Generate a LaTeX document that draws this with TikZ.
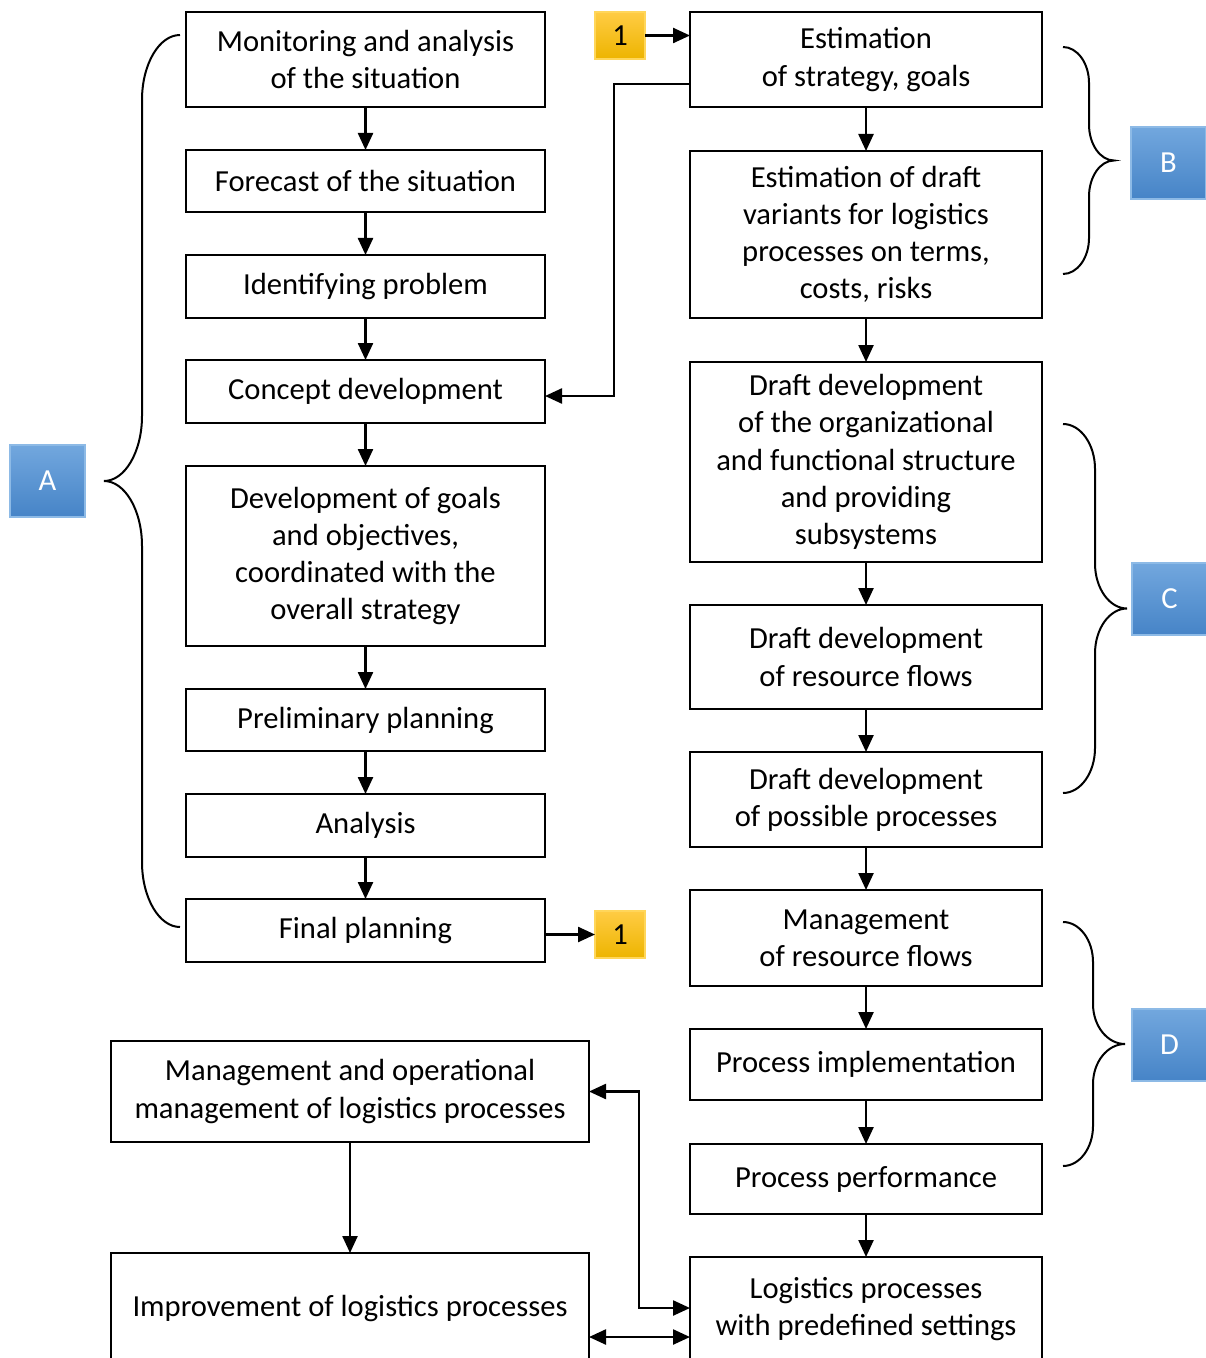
\documentclass[tikz,border=0pt]{standalone}
\usepackage{fontspec}
\setmainfont{Carlito}
\usetikzlibrary{arrows.meta, calc}
\newcommand{\px}{*0.5pt}
\newcommand{\arrowTip}{{Triangle[length=17\px, width=15\px]}}
\newcommand{\lineWidth}{2.4\px}
\newcommand{\boxLine}{2\px}
\newcommand{\leftWidth}{359\px}
\newcommand{\rightWidth}{352\px}
\newcommand{\bottomWidth}{478\px}
\definecolor{tagBlueTop}{HTML}{72A7DE}
\definecolor{tagBlueBottom}{HTML}{4684C7}
\definecolor{tagBlueLine}{HTML}{8DBAE6}
\definecolor{tagGoldTop}{HTML}{FFCC44}
\definecolor{tagGoldBottom}{HTML}{EDB400}
\definecolor{tagGoldLine}{HTML}{FFD65A}
\tikzstyle{box}=[draw=black, line width=\boxLine, fill=white, inner sep=0, outer sep=0, align=center, anchor=north, font=\fontsize{15.3}{18.6}\selectfont]
\tikzstyle{leftBox}=[box, minimum width=\leftWidth]
\tikzstyle{rightBox}=[box, minimum width=\rightWidth]
\tikzstyle{bottomBox}=[box, minimum width=\bottomWidth]
\tikzstyle{tag}=[inner sep=0, outer sep=0, anchor=north west, line width=1.5\px, font=\fontsize{15.3}{18.6}\selectfont]
\tikzstyle{goldTag}=[tag, top color=tagGoldTop, bottom color=tagGoldBottom, draw=tagGoldLine, minimum width=50\px, minimum height=47\px]
\tikzstyle{blueTag}=[tag, top color=tagBlueTop, bottom color=tagBlueBottom, draw=tagBlueLine, text=white, minimum width=75\px, minimum height=72\px]
\tikzstyle{line}=[draw=black, line width=\lineWidth]
\tikzstyle{arrow}=[line, -\arrowTip]
\tikzstyle{twoWay}=[line, \arrowTip-\arrowTip]
\tikzstyle{brace}=[draw=black, line width=2\px]
% #1 end x, #2 stem x, #3 tip x, #4 top y, #5 bottom y, #6 bend
\newcommand{\bracket}[6]{%
  \pgfmathsetmacro{\ym}{(#4+#5)/2}
  \draw[brace] (#1,#4)
    .. controls ({#2+0.45*(#1-#2)},#4) and (#2,{#4+0.45*#6}) .. (#2,{#4+#6})
    -- (#2,{\ym-#6})
    .. controls (#2,{\ym-0.45*#6}) and ({#3+0.55*(#2-#3)},\ym) .. (#3,\ym)
    .. controls ({#3+0.55*(#2-#3)},\ym) and (#2,{\ym+0.45*#6}) .. (#2,{\ym+#6})
    -- (#2,{#5-#6})
    .. controls (#2,{#5-0.45*#6}) and ({#2+0.45*(#1-#2)},#5) .. (#1,#5);
}

\begin{document}
\begin{tikzpicture}[x=0.5pt, y=-0.5pt]

% Frame
\useasboundingbox (0,0) rectangle (1205,1358);

% Left column
\node[leftBox, minimum height=95\px] (monitor) at (365.5,12) {Monitoring and analysis\\of the situation};
\node[leftBox, minimum height=62\px] (forecast) at (365.5,150) {Forecast of the situation};
\node[leftBox, minimum height=63\px] (identify) at (365.5,255) {Identifying problem};
\node[leftBox, minimum height=63\px] (concept) at (365.5,360) {Concept development};
\node[leftBox, minimum height=180\px] (goals) at (365.5,466) {Development of goals\\and objectives,\\coordinated with the\\overall strategy};
\node[leftBox, minimum height=62\px] (prelim) at (365.5,689) {Preliminary planning};
\node[leftBox, minimum height=63\px] (analysis) at (365.5,794) {Analysis};
\node[leftBox, minimum height=63\px] (final) at (365.5,899) {Final planning};

% Right column
\node[rightBox, minimum height=95\px] (estStrategy) at (866,12) {Estimation\\of strategy, goals};
\node[rightBox, minimum height=167\px] (estDraft) at (866,151) {Estimation of draft\\variants for logistics\\processes on terms,\\costs, risks};
\node[rightBox, minimum height=200\px] (draftStruct) at (866,362) {Draft development\\of the organizational\\and functional structure\\and providing\\subsystems};
\node[rightBox, minimum height=104\px] (draftFlows) at (866,605) {Draft development\\of resource flows};
\node[rightBox, minimum height=95\px] (draftProc) at (866,752) {Draft development\\of possible processes};
\node[rightBox, minimum height=96\px] (mgmtFlows) at (866,890) {Management\\of resource flows};
\node[rightBox, minimum height=71\px] (procImpl) at (866,1029) {Process implementation};
\node[rightBox, minimum height=70\px] (procPerf) at (866,1144) {Process performance};
\node[rightBox, minimum height=104\px] (logistics) at (866,1257) {Logistics processes\\with predefined settings};

% Bottom left
\node[bottomBox, minimum height=101\px] (mgmtOper) at (350,1041) {Management and operational\\management of logistics processes};
\node[bottomBox, minimum height=110\px] (improve) at (350,1253) {Improvement of logistics processes};

% Tags
\node[goldTag] (tagTop) at (595,12) {1};
\node[goldTag] (tagBottom) at (595,911) {1};
\node[blueTag] (tagA) at (10,445) {A};
\node[blueTag] (tagB) at (1131,127) {B};
\node[blueTag] (tagC) at (1132,563) {C};
\node[blueTag] (tagD) at (1132,1009) {D};

% Braces
\bracket{180}{142}{104}{35}{927}{65}
\bracket{1063}{1089}{1114}{47}{274}{36}
\bracket{1063}{1095}{1127}{424}{793}{45}
\bracket{1063}{1093}{1125}{922}{1166}{40}

% Flow arrows
\foreach \a/\b in {monitor/forecast, forecast/identify, identify/concept, concept/goals,
  goals/prelim, prelim/analysis, analysis/final,
  estStrategy/estDraft, estDraft/draftStruct, draftStruct/draftFlows, draftFlows/draftProc,
  draftProc/mgmtFlows, mgmtFlows/procImpl, procImpl/procPerf, procPerf/logistics,
  mgmtOper/improve} {
  \draw[arrow] (\a) -- (\b);
}

% Links
\draw[arrow] (tagTop.east) -- (tagTop.east -| estStrategy.west);
\draw[arrow] (final.east |- tagBottom.west) -- (tagBottom.west);
\draw[arrow] ([yshift=-24.5\px]estStrategy.west) -- ++(-76,0) |- ([yshift=-4.5\px]concept.east);
\draw[twoWay] (mgmtOper.east) -- ++(50,0) |- ([yshift=1\px]logistics.west);
\draw[twoWay] ([yshift=-28\px]logistics.west) coordinate (lowLink) -- (lowLink -| improve.east);

\end{tikzpicture}
\end{document}
